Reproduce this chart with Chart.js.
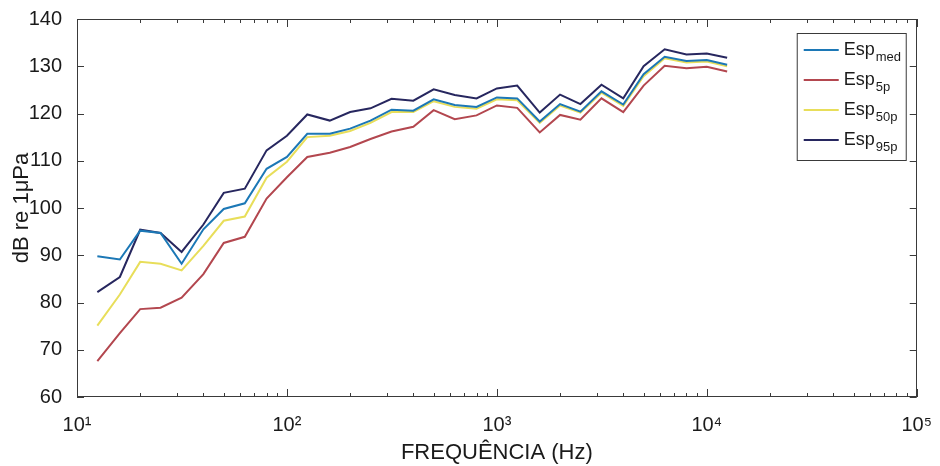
<!DOCTYPE html>
<html>
<head>
<meta charset="utf-8">
<script src="https://cdn.jsdelivr.net/npm/chart.js@4.4.1/dist/chart.umd.min.js"></script>
<style>
  html, body { margin: 0; padding: 0; background: #fff; }
  #wrap { width: 940px; height: 466px; }
</style>
</head>
<body>
<div id="wrap"><canvas id="espChart" width="940" height="466"></canvas></div>
<script>
// bandas de terço de oitava (Hz)
const freqs = [12.5, 16, 20, 25, 31.5, 40, 50, 63, 80, 100, 125, 160, 200, 250, 315, 400,
  500, 630, 800, 1000, 1250, 1600, 2000, 2500, 3150, 4000, 5000, 6300, 8000, 10000, 12500];

// níveis em dB re 1 µPa
const espMed = [89.8, 89.1, 95.2, 94.7, 88.2, 95.5, 99.8, 101.0, 108.3, 110.8, 115.7, 115.7, 116.8, 118.5, 120.8, 120.6,
  123.0, 121.8, 121.4, 123.4, 123.2, 118.3, 122.0, 120.4, 124.7, 121.9, 128.3, 132.0, 131.1, 131.3, 130.3];
const esp5p = [67.6, 73.5, 78.6, 78.9, 81.0, 86.0, 92.6, 93.9, 102.0, 106.5, 110.8, 111.7, 112.9, 114.6, 116.2, 117.2,
  120.7, 118.8, 119.6, 121.7, 121.2, 116.0, 119.7, 118.7, 123.2, 120.3, 125.9, 130.1, 129.6, 129.9, 128.9];
const esp50p = [75.1, 81.7, 88.6, 88.2, 86.8, 92.0, 97.3, 98.2, 106.4, 109.8, 115.0, 115.3, 116.3, 118.0, 120.3, 120.3,
  122.6, 121.4, 121.0, 123.0, 122.8, 118.0, 121.7, 120.2, 124.4, 121.6, 127.9, 131.7, 130.8, 131.0, 130.0];
const esp95p = [82.2, 85.4, 95.4, 94.7, 90.7, 96.5, 103.2, 104.1, 112.2, 115.3, 119.8, 118.5, 120.3, 121.1, 123.1, 122.7,
  125.1, 123.9, 123.2, 125.3, 125.9, 120.2, 124.0, 122.0, 126.1, 123.2, 130.0, 133.6, 132.5, 132.7, 131.8];

const seriesSubs = ['med', '5p', '50p', '95p'];
const seriesColors = ['#1c78b6', '#b3474f', '#e8de5a', '#27275f'];

const xMajorTicks = [10, 100, 1000, 10000, 100000];
const yTicks = [60, 70, 80, 90, 100, 110, 120, 130, 140];

const FONT = '"Liberation Sans", Arial, sans-serif';
const TXT = '#1a1a1a';
const sup = { 1: '\u00b9', 2: '\u00b2', 3: '\u00b3', 4: '\u2074', 5: '\u2075' };

// ticks menores do eixo log (2..9 em cada década)
const xMinorTicks = [];
xMajorTicks.slice(0, -1).forEach(d => { for (let k = 2; k <= 9; k++) xMinorTicks.push(d * k); });

const toPoints = vals => vals.map((v, i) => ({ x: freqs[i], y: v }));

// caixa do eixo com marcas para dentro, estilo MATLAB
const boxTicks = {
  id: 'boxTicks',
  afterDatasetsDraw(chart) {
    const { ctx, chartArea: a, scales: { x, y } } = chart;
    ctx.save();
    ctx.strokeStyle = '#3a3a3a';
    ctx.lineWidth = 1;
    ctx.beginPath();
    yTicks.forEach(v => {
      const py = Math.round(y.getPixelForValue(v)) + 0.5;
      ctx.moveTo(a.left, py); ctx.lineTo(a.left + 7, py);
      ctx.moveTo(a.right, py); ctx.lineTo(a.right - 7, py);
    });
    const xt = (v, len) => {
      const px = Math.round(x.getPixelForValue(v)) + 0.5;
      ctx.moveTo(px, a.bottom); ctx.lineTo(px, a.bottom - len);
      ctx.moveTo(px, a.top); ctx.lineTo(px, a.top + len);
    };
    xMinorTicks.forEach(v => xt(v, 4));
    xMajorTicks.forEach(v => xt(v, 8));
    ctx.stroke();
    ctx.strokeRect(Math.round(a.left) + 0.5, Math.round(a.top) + 0.5,
      Math.round(a.right - a.left) - 1, Math.round(a.bottom - a.top) - 1);
    ctx.restore();
  }
};

// legenda com subscrito
const espLegend = {
  id: 'espLegend',
  afterDraw(chart) {
    const { ctx, chartArea: a } = chart;
    const w = 109, h = 127;
    const bx = a.right - 11 - w, by = a.top + 14;
    ctx.save();
    ctx.fillStyle = '#fff';
    ctx.fillRect(bx, by, w, h);
    ctx.strokeStyle = '#3a3a3a';
    ctx.lineWidth = 1;
    ctx.strokeRect(bx + 0.5, by + 0.5, w, h);
    chart.data.datasets.forEach((ds, i) => {
      const cy = by + 17 + i * 30;
      ctx.strokeStyle = ds.borderColor;
      ctx.lineWidth = 2;
      ctx.beginPath();
      ctx.moveTo(bx + 7, cy); ctx.lineTo(bx + 42, cy);
      ctx.stroke();
      ctx.fillStyle = TXT;
      ctx.textBaseline = 'alphabetic';
      ctx.font = '18px ' + FONT;
      ctx.fillText('Esp', bx + 47, cy + 5);
      const wEsp = ctx.measureText('Esp').width;
      ctx.font = '13px ' + FONT;
      ctx.fillText(seriesSubs[i], bx + 47 + wEsp + 1, cy + 11);
    });
    ctx.restore();
  }
};

new Chart(document.getElementById('espChart'), {
  type: 'line',
  data: {
    datasets: [espMed, esp5p, esp50p, esp95p].map((vals, i) => ({
      label: 'Esp_' + seriesSubs[i],
      data: toPoints(vals),
      borderColor: seriesColors[i],
      backgroundColor: seriesColors[i],
      borderWidth: 2,
      pointRadius: 0,
      tension: 0,
      fill: false
    }))
  },
  options: {
    responsive: false,
    animation: false,
    events: [],
    layout: { padding: { top: 16, right: 14, left: 0, bottom: 0 } },
    plugins: { legend: { display: false }, tooltip: { enabled: false } },
    scales: {
      x: {
        type: 'logarithmic',
        min: 10,
        max: 100000,
        afterBuildTicks: scale => { scale.ticks = xMajorTicks.map(v => ({ value: v, major: true })); },
        afterFit: scale => { scale.height = 69; },
        grid: { display: false },
        border: { display: false },
        ticks: {
          autoSkip: false,
          maxRotation: 0,
          padding: 8,
          color: TXT,
          font: { family: FONT, size: 20 },
          callback: v => '10' + sup[Math.round(Math.log10(v))]
        },
        title: {
          display: true,
          text: 'FREQUÊNCIA (Hz)',
          color: TXT,
          font: { family: FONT, size: 22 },
          padding: { top: 0, bottom: 0 }
        }
      },
      y: {
        min: 60,
        max: 140,
        afterBuildTicks: scale => { scale.ticks = yTicks.map(v => ({ value: v })); },
        afterFit: scale => { scale.width = 77; },
        grid: { display: false },
        border: { display: false },
        ticks: {
          padding: 7,
          color: TXT,
          font: { family: FONT, size: 20 }
        },
        title: {
          display: true,
          text: 'dB re 1\u03bcPa',
          color: TXT,
          font: { family: FONT, size: 22 },
          padding: { top: 9, bottom: 0 }
        }
      }
    }
  },
  plugins: [boxTicks, espLegend]
});
</script>
</body>
</html>
